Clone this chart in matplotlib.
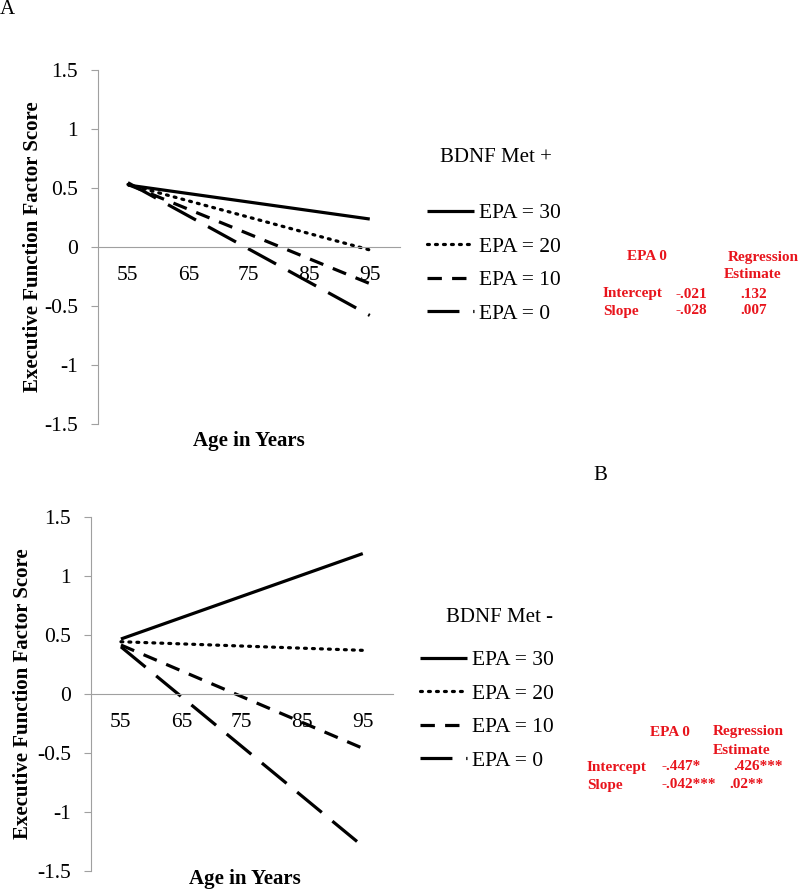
import matplotlib
matplotlib.use("Agg")
from matplotlib import pyplot as plt

plt.rcParams["font.family"] = ["Liberation Serif", "DejaVu Serif"]

# x categories (Excel style category axis)
ages = ["55", "65", "75", "85", "95"]
epa_labels = ["EPA = 30", "EPA = 20", "EPA = 10", "EPA = 0"]

# predicted scores at age 55 and age 95, panel A (BDNF Met +)
met_plus_start = [0.525, 0.53, 0.53, 0.545]
met_plus_end = [0.237, -0.025, -0.31, -0.58]

# panel B (BDNF Met -)
met_minus_start = [0.466, 0.443, 0.415, 0.40]
met_minus_end = [1.19, 0.37, -0.46, -1.29]

# red regression tables
tab_plus = [["Intercept", "-.021", ".132"], ["Slope", "-.028", ".007"]]
tab_minus = [["Intercept", "-.447*", ".426***"], ["Slope", "-.042***", ".02**"]]

styles = [(None, 2.3), ((0.6, 1.9), 2.3), ((4.5, 3.2), 2.3), ((10, 4.3), 2.3)]

W, H = 800, 892
fig = plt.figure(figsize=(W / 100, H / 100), dpi=100)


def px_axes(left, top, right, bottom):
    return fig.add_axes([left / W, 1 - bottom / H, (right - left) / W, (bottom - top) / H])


def draw_panel(ax, start, end, ylab_x):
    lines = []
    for s, e, (dash, lw) in zip(start, end, styles):
        ln, = ax.plot([0, len(ages) - 1], [s, e], color="black", lw=lw,
                      solid_capstyle="butt", dash_capstyle="round" if dash == (0.6, 1.9) else "butt")
        if dash is not None:
            ln.set_dashes(dash)
        lines.append(ln)
    for sp in ["top", "right"]:
        ax.spines[sp].set_visible(False)
    # x axis crosses at zero (this resets ticks, so do it first)
    ax.spines["bottom"].set_position(("data", 0))
    ax.spines["bottom"].set_color("#a0a0a0")
    ax.spines["left"].set_color("#a0a0a0")
    ax.set_xlim(-0.5, len(ages) - 0.5)
    ax.set_ylim(-1.5, 1.5)
    ax.set_yticks([-1.5, -1, -0.5, 0, 0.5, 1, 1.5])
    ax.set_yticklabels(["-1.5", "-1", "-0.5", "0", "0.5", "1", "1.5"])
    ax.set_xticks(range(len(ages)))
    ax.set_xticklabels(ages)
    ax.tick_params(axis="x", length=0, pad=14, labelsize=15.5)
    ax.tick_params(axis="y", length=5, color="#a0a0a0", direction="out", pad=9, labelsize=15.5)
    ax.set_ylabel("Executive Function Factor Score", fontsize=15, fontweight="bold")
    ax.yaxis.set_label_coords(ylab_x, 0.5)
    ax.patch.set_alpha(0)
    return lines


axA = px_axes(97.7, 70, 400, 424)
linesA = draw_panel(axA, met_plus_start, met_plus_end, -0.182)
axB = px_axes(90.7, 517, 393, 871)
linesB = draw_panel(axB, met_minus_start, met_minus_end, -0.19)

fig.text(249 / W, 1 - 441 / H, "Age in Years", fontsize=15, fontweight="bold", ha="center", va="center")
fig.text(245 / W, 1 - 879 / H, "Age in Years", fontsize=15, fontweight="bold", ha="center", va="center")

fig.text(0 / W, 1 - 10 / H, "A", fontsize=15, ha="left", va="center")
fig.text(593 / W, 1 - 476 / H, "B", fontsize=15, ha="left", va="center")

fig.text(440 / W, 1 - 158 / H, "BDNF Met +", fontsize=15, ha="left", va="center")
fig.text(446 / W, 1 - 618 / H, "BDNF Met -", fontsize=15, ha="left", va="center")

leg_kw = dict(loc="upper left", frameon=False, fontsize=15.5, handlelength=2.15,
              handletextpad=0.25, labelspacing=0.62)
fig.legend(linesA, epa_labels, bbox_to_anchor=(408 / W, 1 - 184 / H), **leg_kw)
fig.legend(linesB, epa_labels, bbox_to_anchor=(401 / W, 1 - 631 / H), **leg_kw)

red = "#e8141c"
kw = dict(color=red, fontsize=11, fontweight="bold", va="center")

# panel A table
fig.text(627 / W, 1 - 257 / H, "EPA 0", ha="left", **kw)
fig.text(728 / W, 1 - 257 / H, "Regression", ha="left", **kw)
fig.text(724 / W, 1 - 275 / H, "Estimate", ha="left", **kw)
for row, y in zip(tab_plus, [294, 311]):
    fig.text(603 / W, 1 - y / H, row[0], ha="left", **kw)
    fig.text(676 / W, 1 - y / H, row[1], ha="left", **kw)
    fig.text(740 / W, 1 - y / H, row[2], ha="left", **kw)

# panel B table
fig.text(650 / W, 1 - 732 / H, "EPA 0", ha="left", **kw)
fig.text(713 / W, 1 - 732 / H, "Regression", ha="left", **kw)
fig.text(713 / W, 1 - 750 / H, "Estimate", ha="left", **kw)
for row, y, xs in zip(tab_minus, [767, 785], [(587, 662, 733), (587, 661, 729)]):
    fig.text(xs[0] / W, 1 - y / H, row[0], ha="left", **kw)
    fig.text(xs[1] / W, 1 - y / H, row[1], ha="left", **kw)
    fig.text(xs[2] / W, 1 - y / H, row[2], ha="left", **kw)

fig.savefig("out.png", dpi=100)
